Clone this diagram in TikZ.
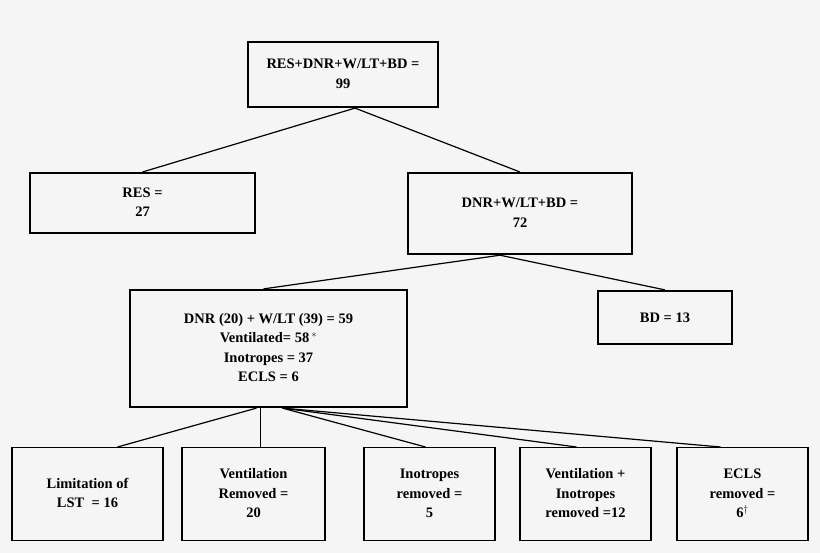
\documentclass[tikz,border=0pt]{standalone}
\usepackage{fontspec}
\setmainfont{Liberation Serif}
\newcommand{\stk}[2]{\raisebox{#1}{\renewcommand{\arraystretch}{1.15}\begin{tabular}{@{}c@{}}#2\end{tabular}}}
\begin{document}
\begin{tikzpicture}[x=1pt,y=-1pt,
  box/.style={draw,line width=2.2pt,align=center,font=\bfseries\fontsize{14.5}{17}\selectfont,inner sep=0pt},
  thin/.style={draw,line width=1.4pt,align=center,font=\bfseries\fontsize{14.5}{17}\selectfont,inner sep=0pt},
  ln/.style={line width=1.2pt}]
\fill[white!96!black] (0,0) rectangle (820,553);
\useasboundingbox (0,0) rectangle (820,553);
\node[box,minimum width=190,minimum height=65] (top) at (343,74.5) {\stk{0pt}{RES+DNR+W/LT+BD =\\99}};
\node[box,minimum width=225,minimum height=60,anchor=north] (res) at (142.5,172) {\stk{0pt}{RES =\\27}};
\node[box,minimum width=224,minimum height=81,anchor=north] (dnr) at (520,172) {\stk{12pt}{DNR+W/LT+BD =\\72}};
\node[box,minimum width=277,minimum height=117] (big) at (268.5,348.5) {\stk{6pt}{DNR (20) + W/LT (39) = 59\\Ventilated= 58\,$^{*}$\\Inotropes = 37\\ECLS = 6}};
\node[box,minimum width=134,minimum height=53] (bd) at (665,317.5) {BD = 13};
\begin{scope}[every node/.style={thin,minimum height=93,anchor=north}]
\node[minimum width=151] (b1) at (87.5,447) {\stk{10pt}{Limitation of\\LST \ = 16}};
\node[minimum width=143] (b2) at (253.5,447) {\stk{3pt}{Ventilation\\Removed =\\20}};
\node[minimum width=131] (b3) at (429.5,447) {\stk{3pt}{Inotropes\\removed =\\5}};
\node[minimum width=131] (b4) at (585.5,447) {\stk{3pt}{Ventilation +\\Inotropes\\removed =12}};
\node[minimum width=131] (b5) at (742.5,447) {\stk{3pt}{ECLS\\removed =\\6$^{\dagger}$}};
\end{scope}
\draw[ln] (top.south) ++(12,0) coordinate (t1) -- (res.north);
\draw[ln] (t1) -- (dnr.north);
\draw[ln] (dnr.south) ++(-20,0) coordinate (d1) -- ([xshift=-5]big.north);
\draw[ln] (d1) -- (bd.north);
\draw[ln] ([xshift=-12]big.south) coordinate (s1) -- ([xshift=30]b1.north);
\draw[line width=0.6pt] ([xshift=-8]big.south) -- ([xshift=7]b2.north);
\draw[ln] ([xshift=14]big.south) coordinate (s2) -- ([xshift=-4]b3.north);
\draw[ln] (s2) -- ([xshift=-9]b4.north);
\draw[ln] (s2) -- ([xshift=-22]b5.north);
\end{tikzpicture}
\end{document}
